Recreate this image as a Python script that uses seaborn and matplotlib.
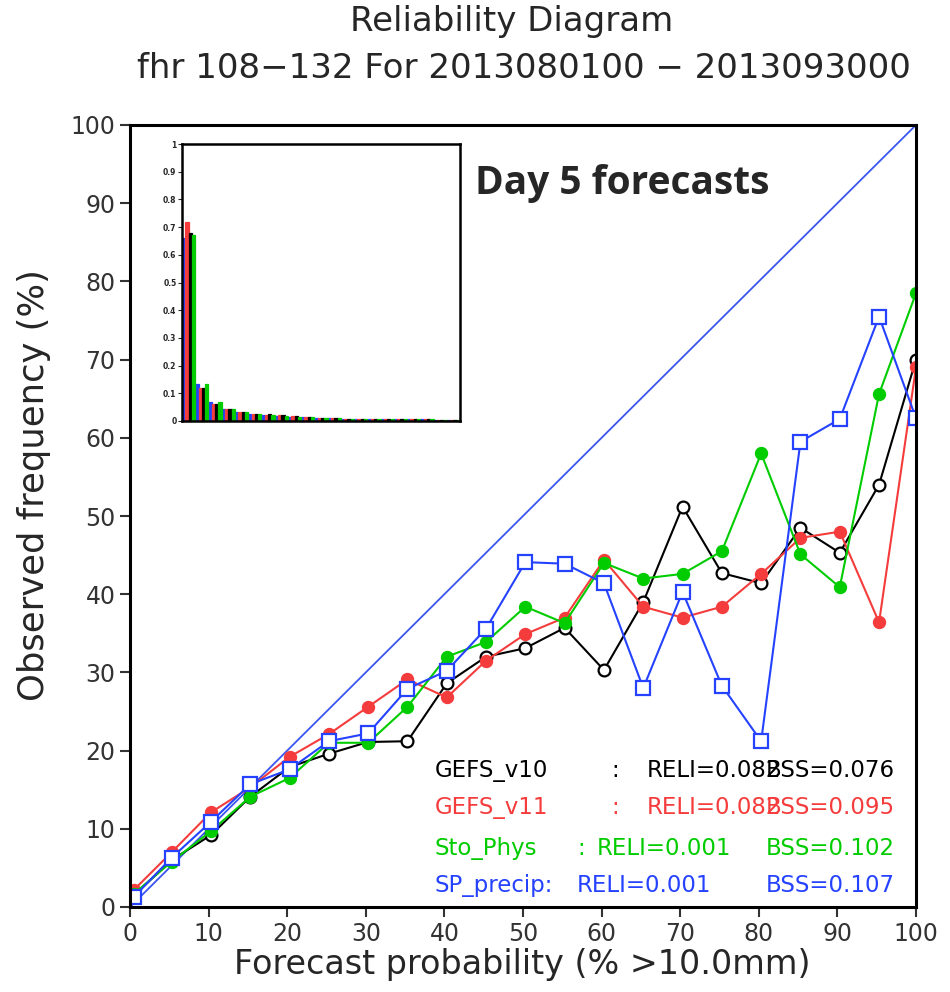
"""
Reliability diagram (Day 5 forecasts) with frequency inset.
"""

import matplotlib
matplotlib.use("Agg")
import matplotlib.pyplot as plt
import pandas as pd
import seaborn as sns

# forecast probability bins (%)
prob = [0.5, 5.3, 10.3, 15.3, 20.3, 25.3, 30.3, 35.3, 40.3, 45.3, 50.3,
        55.3, 60.3, 65.3, 70.3, 75.3, 80.3, 85.3, 90.3, 95.3, 100]

# observed frequency (%) per model
gefs_v10 = [1.5, 6.0, 9.2, 14.1, 17.9, 19.6, 21.1, 21.2, 28.6, 32.0, 33.1,
            35.7, 30.3, 39.0, 51.2, 42.7, 41.4, 48.5, 45.3, 54.0, 70.0]
gefs_v11 = [2.2, 7.0, 12.1, 15.3, 19.2, 22.1, 25.6, 29.1, 26.8, 31.5, 34.9,
            37.0, 44.4, 38.4, 37.0, 38.4, 42.6, 47.2, 48.0, 36.4, 69.0]
sto_phys = [1.7, 5.8, 9.7, 14.1, 16.5, 21.0, 21.0, 25.6, 32.0, 33.9, 38.4,
            36.3, 44.0, 42.0, 42.6, 45.5, 58.0, 45.1, 40.9, 65.6, 78.5]
sp_precip = [1.3, 6.3, 10.9, 15.7, 17.6, 21.2, 22.2, 27.9, 30.2, 35.6, 44.1,
             43.9, 41.4, 28.0, 40.3, 28.3, 21.2, 59.5, 62.4, 75.5, 62.5]

# forecast frequency (inset histogram)
hist_v10 = [0.68, 0.12, 0.06, 0.045, 0.033, 0.027, 0.024, 0.02, 0.017, 0.015, 0.012,
            0.01, 0.008, 0.008, 0.007, 0.007, 0.006, 0.006, 0.007, 0.004, 0.003]
hist_v11 = [0.72, 0.12, 0.06, 0.045, 0.033, 0.027, 0.022, 0.02, 0.017, 0.014, 0.012,
            0.01, 0.008, 0.008, 0.007, 0.007, 0.006, 0.006, 0.009, 0.004, 0.003]
hist_sto = [0.67, 0.135, 0.07, 0.045, 0.033, 0.027, 0.022, 0.019, 0.016, 0.014, 0.011,
            0.01, 0.008, 0.007, 0.007, 0.006, 0.006, 0.007, 0.006, 0.004, 0.003]
hist_sp = [0.66, 0.135, 0.07, 0.045, 0.033, 0.027, 0.022, 0.019, 0.016, 0.014, 0.011,
           0.01, 0.008, 0.007, 0.007, 0.006, 0.006, 0.006, 0.006, 0.004, 0.004]

models = ["GEFS_v10", "GEFS_v11", "Sto_Phys", "SP_precip"]
colors = {"GEFS_v10": "black", "GEFS_v11": "#f53c3c",
          "Sto_Phys": "#00cc00", "SP_precip": "#2442ff"}

sns.set_style("ticks")
plt.rcParams["font.family"] = ["DejaVu Sans"]

fig = plt.figure(figsize=(9.5, 9.92), dpi=100)
ax = fig.add_axes([130 / 950, 85 / 992, 786 / 950, 782 / 992])

# perfect reliability line
sns.lineplot(x=[0, 100], y=[0, 100], ax=ax, color="#3a55f0", lw=1.3)

series = {
    "GEFS_v10": (gefs_v10, dict(marker="o", mfc="white", mec="black", ms=8.5)),
    "GEFS_v11": (gefs_v11, dict(marker="o", mfc=colors["GEFS_v11"], mec=colors["GEFS_v11"], ms=8)),
    "Sto_Phys": (sto_phys, dict(marker="o", mfc=colors["Sto_Phys"], mec=colors["Sto_Phys"], ms=8)),
    "SP_precip": (sp_precip, dict(marker="s", mfc="white", mec=colors["SP_precip"], ms=9.5)),
}
for name, (vals, mk) in series.items():
    sns.lineplot(x=prob, y=vals, ax=ax, color=colors[name], lw=1.5,
                 mew=1.6, sort=False, **mk)

ax.set_xlim(0, 100)
ax.set_ylim(0, 100)
ax.set_xticks(range(0, 101, 10))
ax.set_yticks(range(0, 101, 10))
ax.tick_params(labelsize=17, length=7, width=1.5, colors="#333333", labelcolor="#333333")
for sp in ax.spines.values():
    sp.set_linewidth(2.2)
    sp.set_color("black")

ax.set_xlabel("Forecast probability (% >10.0mm)", fontsize=24)
ax.set_ylabel("Observed frequency (%)", fontsize=25.5)
ax.xaxis.set_label_coords(0.499, -0.052)
ax.yaxis.set_label_coords(-0.1, 0.54)

fig.text(0.539, 1 - 22 / 992, "Reliability Diagram", ha="center", va="center", fontsize=24.5)
fig.text(0.551, 1 - 68 / 992, "fhr 108\u2212132 For 2013080100 \u2212 2013093000",
         ha="center", va="center", fontsize=24.5)

# scores text
rows = [
    ("GEFS_v10", 17.5, [(38.8, "GEFS_v10", "left"), (61.3, ":", "left"),
                        (65.8, "RELI=0.082", "left"), (97.3, "BSS=0.076", "right")]),
    ("GEFS_v11", 12.7, [(38.8, "GEFS_v11", "left"), (61.3, ":", "left"),
                        (65.8, "RELI=0.082", "left"), (97.3, "BSS=0.095", "right")]),
    ("Sto_Phys", 7.5, [(38.8, "Sto_Phys", "left"), (56.9, ":", "left"),
                       (59.4, "RELI=0.001", "left"), (97.3, "BSS=0.102", "right")]),
    ("SP_precip", 2.7, [(38.8, "SP_precip:", "left"),
                        (56.9, "RELI=0.001", "left"), (97.3, "BSS=0.107", "right")]),
]
for name, yy, parts in rows:
    for xx, txt, ha in parts:
        ax.text(xx, yy, txt, color=colors[name], fontsize=16.5, ha=ha, va="center")

ax.text(43.9, 92.5, "Day 5 forecasts", fontsize=28, fontweight="bold",
        family="Open Sans", ha="left", va="center")

# inset histogram
axin = fig.add_axes([182 / 950, 571 / 992, 278 / 950, 277 / 992])
hist = pd.DataFrame({
    "bin": list(range(21)) * 4,
    "freq": hist_sp + hist_v11 + hist_v10 + hist_sto,
    "model": (["SP_precip"] * 21 + ["GEFS_v11"] * 21 + ["GEFS_v10"] * 21
              + ["Sto_Phys"] * 21),
})
sns.barplot(data=hist, x="bin", y="freq", hue="model", palette=colors, ax=axin,
            width=1.0, legend=False, saturation=1, linewidth=0.9)
for patch in axin.patches:
    patch.set_edgecolor(patch.get_facecolor())
axin.set_xlim(-0.5, 20.5)
axin.set_ylim(0, 1)
axin.set_xticks([])
axin.set_yticks([i / 10 for i in range(11)])
axin.set_yticklabels(["0"] + [f"0.{i}" for i in range(1, 10)] + ["1"])
axin.tick_params(axis="y", labelsize=5.5, length=3, width=0.8, pad=1)
for lab in axin.get_yticklabels():
    lab.set_fontweight("bold")
axin.set_xlabel("")
axin.set_ylabel("")
for sp in axin.spines.values():
    sp.set_linewidth(1.8)
    sp.set_color("black")

fig.savefig("out.png", dpi=100)
